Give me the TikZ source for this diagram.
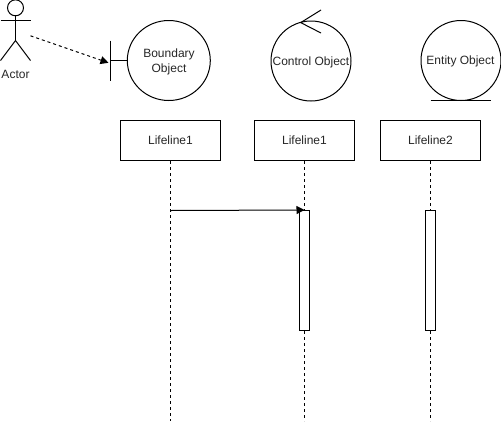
\documentclass[tikz,border=0pt]{standalone}
\usepackage{fontspec}
\setmainfont{Liberation Sans}
\usetikzlibrary{arrows.meta,shapes.geometric}
\definecolor{ink}{HTML}{000000}
\tikzset{
  every path/.style={line width=1pt},
  life/.style={draw=ink,fill=white,line width=1pt,minimum width=100pt,minimum height=40pt,inner sep=0pt,font=\fontsize{12}{14}\selectfont,text=ink!85},
  act/.style={draw=ink,fill=white,line width=1pt,minimum width=10pt,minimum height=120pt,inner sep=0pt},
  obj/.style={ellipse,draw=ink,line width=1pt,minimum width=80pt,minimum height=80pt,inner sep=0pt,align=center,font=\fontsize{12}{14}\selectfont,text=ink!85},
  lbl/.style={inner sep=0pt,font=\fontsize{12}{14.4}\selectfont,text=ink!85},
  lifedash/.style={draw=ink,line width=1pt,dash pattern=on 3pt off 3pt},
  tip/.style={-{Triangle[length=8pt,width=8pt]}}
}
\begin{document}
\begin{tikzpicture}[x=1pt,y=-1pt]
\useasboundingbox (0,0) rectangle (501,421);
% actor
\node[circle,draw=ink,line width=1pt,minimum size=16pt,inner sep=0pt] (head) at (15.5,7.8) {};
\coordinate (hip) at (15.5,40.5);
\coordinate (armL) at (0.5,20.5);
\coordinate (armR) at (30.5,20.5);
\coordinate (footL) at (0.5,60.5);
\coordinate (footR) at (30.5,60.5);
\draw (head.south) -- (hip);
\draw (armL) -- (armR);
\draw (footL) -- (hip) -- (footR);
\node[lbl] (actor) at (15.5,74) {Actor};
% objects
\node[obj,minimum width=83pt] (boundary) at (168.8,60.5) {};
\node[lbl,align=center] (boundaryText) at (169,62) {Boundary\\Object};
\node[obj] (control) at (311,61) {};
\node[lbl] (controlText) at (311,62.5) {Control Object};
\node[obj] (entity) at (461,60.5) {};
\node[lbl] (entityText) at (460.5,61.5) {Entity Object};
% boundary bar
\coordinate (barT) at (110.5,40.5);
\coordinate (barB) at (110.5,80.5);
\coordinate (barM) at (110.5,60.5);
\draw (barT) -- (barB);
\draw (barM) -- (boundary.west);
% control arrow
\coordinate (chA) at (321,10);
\coordinate (chT) at (300.7,22.6);
\coordinate (chB) at (321,33);
\draw (chA) -- (chT) -- (chB);
% entity underline
\coordinate (enL) at (430.7,100.5);
\coordinate (enR) at (490.7,100.5);
\draw (enL) -- (enR);
% dashed association
\coordinate (asrc) at (30.5,35.8);
\coordinate (adst) at (108.5,62.8);
\draw[dash pattern=on 3pt off 3pt,draw=ink,tip] (asrc) -- (adst);
% lifelines
\node[life] (l1) at (170.5,140.5) {Lifeline1};
\node[life] (l2) at (304.5,140.5) {Lifeline1};
\node[life] (l3) at (430.5,140.5) {Lifeline2};
\node[act] (a2) at (304.5,270.5) {};
\node[act] (a3) at (430.5,270.5) {};
\coordinate (e1) at (170.5,421);
\coordinate (e2) at (304.5,421);
\coordinate (e3) at (430.5,421);
\coordinate (m1) at (170.5,210.5);
\draw[lifedash] (l1.south) -- (e1);
\draw[lifedash] (l2.south) -- (a2.north);
\draw[lifedash] (a2.south) -- (e2);
\draw[lifedash] (l3.south) -- (a3.north);
\draw[lifedash] (a3.south) -- (e3);
\draw[draw=ink,tip] (m1) -- (a2.north);
\end{tikzpicture}
\end{document}
